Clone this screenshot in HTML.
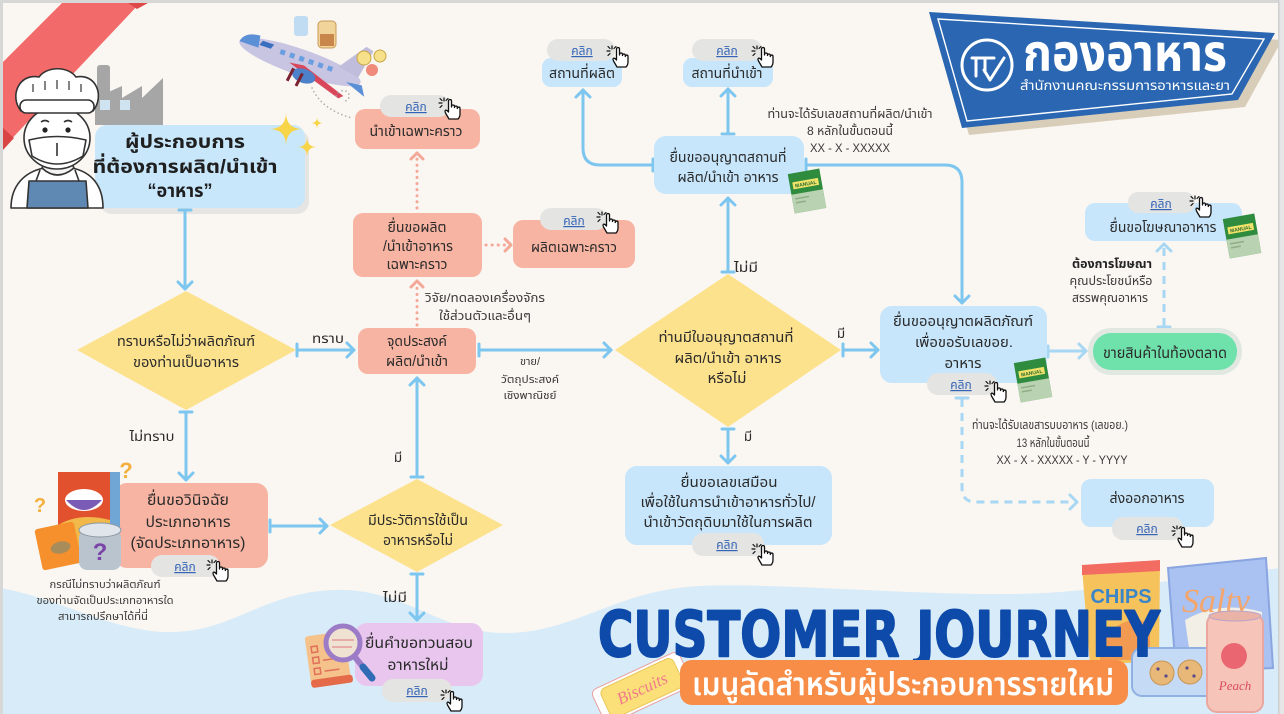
<!DOCTYPE html>
<html><head><meta charset="utf-8"><style>
html,body{margin:0;padding:0;width:1284px;height:714px;overflow:hidden;background:#faf6f2}
svg{display:block}
.t{font-family:"Liberation Sans","Noto Sans Thai","Loma","Garuda","Noto Sans CJK SC",sans-serif;fill:#2b2b2b;text-anchor:middle;font-size:14.5px}
.s{font-size:12px;fill:#3a3a3a}
.xs{font-size:11px;fill:#3a3a3a}
.b{font-weight:bold}
.lk{font-family:"Liberation Sans","Noto Sans Thai","Loma",sans-serif;font-size:12px;fill:#3464b6;text-anchor:middle;text-decoration:underline}
.c{stroke:#7cc6ef;stroke-width:3;fill:none;stroke-linecap:round;stroke-linejoin:round}
.cl{stroke:#a7d7f3;stroke-width:3;fill:none;stroke-linecap:round;stroke-linejoin:round}
.dsh{stroke-dasharray:8 6;stroke-linecap:butt}
.dot{stroke:#f4a897;stroke-width:3;fill:none;stroke-dasharray:0.1 6;stroke-linecap:round}
.dotc{stroke:#f4a897;stroke-width:3;fill:none;stroke-linecap:round;stroke-linejoin:round}
.pill{fill:#e4e4e2}
.bl{fill:#c7e6fb}
.sa{fill:#f8b4a2}
.ye{fill:#fde28d}
</style></head><body>
<svg width="1284" height="714" viewBox="0 0 1284 714" xmlns="http://www.w3.org/2000/svg">
<defs>
<symbol id="hand" viewBox="0 0 26 26">
 <g stroke="#111" stroke-width="1.2" fill="none" stroke-linecap="round">
  <path d="M7 4 L7 7 M2 9 L5 9 M3 4.5 L5 6.5 M11 4.5 L9 6.5 M3 13.5 L5 11.5"/>
 </g>
 <path d="M12 25 L8.5 19 C7.5 17 8 15.5 10 16.5 L11.5 18 L11.5 7 C11.5 5 14.5 5 14.5 7 L14.5 13 L14.5 12.5 C14.5 10.5 17.5 10.5 17.5 12.5 L17.5 13.5 C17.5 11.5 20.3 11.5 20.3 13.5 L20.3 14.5 C20.3 12.6 23 12.6 23 14.5 L23 20 C23 22 22 24 21 25 Z" fill="#fff" stroke="#111" stroke-width="1.3" stroke-linejoin="round"/>
</symbol>
<symbol id="book" viewBox="0 0 42 46">
 <g transform="rotate(-10 21 23)">
  <rect x="5" y="3" width="32" height="40" fill="#2f8b3e"/>
  <rect x="5" y="24" width="32" height="19" fill="#b9d2b1"/>
  <rect x="8" y="12" width="26" height="7" fill="#efe36a"/>
  <text x="21" y="17.5" font-family="Liberation Sans,sans-serif" font-size="5" font-weight="bold" fill="#2f6b2f" text-anchor="middle">MANUAL</text>
  <rect x="8" y="28" width="14" height="1.5" fill="#8fae88"/>
  <rect x="8" y="32" width="10" height="1.5" fill="#8fae88"/>
 </g>
</symbol>
</defs>

<!-- background -->
<rect width="1284" height="714" fill="#faf6f2"/>
<path d="M0 588 C60 598 115 634 175 632 C235 630 265 592 335 590 C405 588 440 633 505 633 C575 633 615 590 700 586 C790 582 960 600 1060 592 C1150 585 1230 572 1284 568 L1284 714 L0 714 Z" fill="#d8ebf8"/>

<!-- red ribbon -->
<polygon points="62,3 140,3 3,148 3,62" fill="#f26a6a"/>
<polygon points="128,3 148,3 137,9" fill="#df4848"/>
<polygon points="3,128 14,138 3,150" fill="#d94444"/>

<!-- factory -->
<rect x="97" y="65" width="13" height="45" rx="3" fill="#a6a6a6"/>
<polygon points="95,125 95,98 122,86 122,98 142,86 142,98 163,78 163,125" fill="#a6a6a6"/>
<rect x="100" y="100" width="10" height="10" fill="#cfe3f0"/>
<rect x="120" y="100" width="10" height="10" fill="#cfe3f0"/>

<!-- title card -->
<rect x="100" y="130" width="209" height="84" rx="12" fill="#e5e5e3"/>
<rect x="95" y="125" width="210" height="83" rx="12" fill="#c8e7fb"/>

<!-- sparkles -->
<g fill="#f8d548">
 <path d="M286 112 Q286 129 303 129 Q286 129 286 146 Q286 129 269 129 Q286 129 286 112 Z"/>
 <path d="M317 117 Q317 123 323 123 Q317 123 317 129 Q317 123 311 123 Q317 123 317 117 Z"/>
 <path d="M307 137 Q307 147 317 147 Q307 147 307 157 Q307 147 297 147 Q307 147 307 137 Z"/>
</g>

<!-- chef -->
<g stroke="#333" stroke-width="1.6" stroke-linejoin="round">
 <path d="M11 208 C11 186 24 172 44 168 L72 168 C92 172 103 186 103 208 Z" fill="#fff"/>
 <path d="M27 208 L29 181 L86 181 L88 208 Z" fill="#5f88b2"/>
 <path d="M36 181 L40 170 M79 181 L75 170" fill="none"/>
 <path d="M42 168 Q57 182 74 168 L70 160 L46 160 Z" fill="#f3f3f3"/>
 <ellipse cx="57" cy="138" rx="33" ry="31" fill="#fff"/>
 <path d="M29 140 Q57 133 86 140 L83 156 Q57 172 32 156 Z" fill="#fff"/>
 <path d="M57 143 L57 156" fill="none"/>
 <path d="M21 111 C9 96 19 73 39 77 C47 66 68 66 76 77 C96 73 105 96 93 111 Z" fill="#fff"/>
 <rect x="20" y="100" width="74" height="13" rx="6" fill="#fff"/>
 <path d="M33 84 L33 92 M45 81 L45 90 M57 80 L57 89 M69 81 L69 90 M81 84 L81 92" fill="none" stroke-width="1.2"/>
 <path d="M41 122 Q45 119 49 122 M64 122 Q68 119 72 122" fill="none"/>
</g>
<circle cx="45" cy="130" r="2.6" fill="#222"/>
<circle cx="68" cy="130" r="2.6" fill="#222"/>

<text class="t b" x="185" y="148" style="font-size:19px;fill:#1f1f1f" textLength="120" lengthAdjust="spacingAndGlyphs">ผู้ประกอบการ</text>
<text class="t b" x="185" y="173" style="font-size:19px;fill:#1f1f1f" textLength="185" lengthAdjust="spacingAndGlyphs">ที่ต้องการผลิต/นำเข้า</text>
<text class="t b" x="180" y="197" style="font-size:19px;fill:#1f1f1f" textLength="65" lengthAdjust="spacingAndGlyphs">“อาหาร”</text>

<!-- plane -->
<g>
 <rect x="294" y="16" width="14" height="20" rx="3" fill="#bfdcf3"/>
 <rect x="318" y="21" width="18" height="27" rx="4" fill="#f1d49a" stroke="#c99a55"/>
 <rect x="320" y="34" width="14" height="12" fill="#c9864a"/>
 <g transform="translate(300 62) rotate(19)">
  <ellipse cx="0" cy="0" rx="64" ry="13" fill="#c8c5e2"/>
  <path d="M-64 0 Q-62 -11 -46 -12 L-44 0 Z" fill="#5b8fd6"/>
  <path d="M-42 -8 L-30 -8 L-32 -3 L-44 -3 Z" fill="#3a6fc0"/>
  <g fill="#6a9ee0"><rect x="-22" y="-6" width="5" height="5"/><rect x="-12" y="-6" width="5" height="5"/><rect x="-2" y="-6" width="5" height="5"/><rect x="8" y="-6" width="5" height="5"/><rect x="18" y="-6" width="5" height="5"/><rect x="28" y="-6" width="5" height="5"/></g>
  <path d="M38 -8 L58 -36 L66 -34 L60 -4 Z" fill="#c0bddc"/>
  <path d="M-10 4 L48 22 L52 18 L5 2 Z" fill="#d9475a"/>
  <ellipse cx="8" cy="12" rx="12" ry="7" fill="#4d81c9"/>
  <path d="M-4 8 L-6 22 M6 10 L4 24" stroke="#7a2230" stroke-width="3"/>
  <path d="M50 4 L72 12 L66 2 Z" fill="#5b8fd6"/>
 </g>
 <circle cx="364" cy="58" r="7" fill="#f6e08a" stroke="#c9a645"/>
 <circle cx="380" cy="56" r="6" fill="#f6e08a" stroke="#c9a645"/>
 <circle cx="372" cy="70" r="6" fill="#f08a7a"/>
</g>
<path d="M312 88 Q322 110 352 118 M336 96 Q340 88 348 92 Q352 100 342 102" stroke="#aaa" stroke-width="1.6" fill="none" stroke-dasharray="0.1 4" stroke-linecap="round"/>

<!-- นำเข้าเฉพาะคราว -->
<rect x="355" y="109" width="125" height="40" rx="10" class="sa"/>
<rect x="380" y="95" width="70" height="22" rx="11" class="pill"/>
<text class="lk" x="416" y="111">คลิก</text>
<use href="#hand" x="437" y="94" width="26" height="26"/>
<text class="t" x="416" y="136" textLength="93" lengthAdjust="spacingAndGlyphs">นำเข้าเฉพาะคราว</text>

<!-- dotted salmon arrows -->
<line x1="417" y1="208" x2="417" y2="158" class="dot"/>
<polyline points="411,159 417,153 423,159" class="dotc"/>
<line x1="417" y1="325" x2="417" y2="286" class="dot"/>
<polyline points="411,287 417,281 423,287" class="dotc"/>
<line x1="486" y1="245" x2="506" y2="245" class="dot"/>
<polyline points="505,239 511,245 505,251" class="dotc"/>

<!-- ยื่นขอผลิต -->
<rect x="353" y="213" width="129" height="64" rx="10" class="sa"/>
<text class="t" x="417" y="232" textLength="59" lengthAdjust="spacingAndGlyphs">ยื่นขอผลิต</text>
<text class="t" x="418" y="251" textLength="70" lengthAdjust="spacingAndGlyphs">/นำเข้าอาหาร</text>
<text class="t" x="417" y="269" textLength="61" lengthAdjust="spacingAndGlyphs">เฉพาะคราว</text>

<!-- ผลิตเฉพาะคราว -->
<rect x="513" y="220" width="122" height="48" rx="10" class="sa"/>
<rect x="540" y="208" width="67" height="22" rx="11" class="pill"/>
<text class="lk" x="574" y="225">คลิก</text>
<use href="#hand" x="595" y="208" width="26" height="26"/>
<text class="t" x="574" y="252" textLength="86" lengthAdjust="spacingAndGlyphs">ผลิตเฉพาะคราว</text>

<text class="t s" x="485" y="302" textLength="120" lengthAdjust="spacingAndGlyphs">วิจัย/ทดลองเครื่องจักร</text>
<text class="t s" x="485" y="320" textLength="92" lengthAdjust="spacingAndGlyphs">ใช้ส่วนตัวและอื่นๆ</text>

<!-- connectors blue -->
<g class="c">
 <path d="M179 210 L191 210 M185 210 L185 289"/><polyline points="178,282 185,289 192,282"/>
 <path d="M297 344 L297 356 M297 350 L354 350"/><polyline points="347,343 354,350 347,357"/>
 <path d="M479 344 L479 356 M479 350 L611 350"/><polyline points="604,343 611,350 604,357"/>
 <path d="M180 412 L192 412 M186 412 L186 480"/><polyline points="179,473 186,480 193,473"/>
 <path d="M270 520 L270 532 M270 526 L327 526"/><polyline points="320,519 327,526 320,533"/>
 <path d="M411 477 L423 477 M417 477 L417 378"/><polyline points="410,385 417,378 424,385"/>
 <path d="M411 574 L423 574 M417 574 L417 620"/><polyline points="410,613 417,620 424,613"/>
 <path d="M722 272 L734 272 M728 272 L728 198"/><polyline points="721,205 728,198 735,205"/>
 <path d="M722 134 L734 134 M728 134 L728 89"/><polyline points="721,96 728,89 735,96"/>
 <path d="M653 159 L653 171 M653 165 L600 165 Q583 165 583 148 L583 90"/><polyline points="576,97 583,90 590,97"/>
 <path d="M806 159 L806 171 M806 165 L945 165 Q962 165 962 182 L962 303"/><polyline points="955,296 962,303 969,296"/>
 <path d="M843 344 L843 356 M843 350 L878 350"/><polyline points="871,343 878,350 871,357"/>
 <path d="M722 429 L734 429 M728 429 L728 463"/><polyline points="721,456 728,463 735,456"/>
</g>
<g class="cl">
 <path d="M1048 346 L1048 357 M1048 351 L1086 351"/><polyline points="1079,344 1086,351 1079,358"/>
 <path d="M1158 327 L1170 327"/>
 <path d="M1164 326 L1164 246" class="dsh"/><polyline points="1157,251 1164,244 1171,251"/>
 <path d="M956 398 L968 398"/>
 <path d="M962 399 L962 488 Q962 502 976 502 L1074 502" class="dsh"/><polyline points="1070,495 1077,502 1070,509"/>
</g>

<!-- diamonds -->
<polygon points="77,350 186,291 296,350 186,410" class="ye"/>
<text class="t" x="186" y="346" textLength="138" lengthAdjust="spacingAndGlyphs">ทราบหรือไม่ว่าผลิตภัณฑ์</text>
<text class="t" x="186" y="367" textLength="106" lengthAdjust="spacingAndGlyphs">ของท่านเป็นอาหาร</text>

<polygon points="615,350 728,274 841,350 728,427" class="ye"/>
<text class="t" x="726" y="342" textLength="135" lengthAdjust="spacingAndGlyphs">ท่านมีใบอนุญาตสถานที่</text>
<text class="t" x="728" y="363" textLength="107" lengthAdjust="spacingAndGlyphs">ผลิต/นำเข้า อาหาร</text>
<text class="t" x="727" y="383" textLength="39" lengthAdjust="spacingAndGlyphs">หรือไม่</text>

<polygon points="330,525 417,479 503,525 417,572" class="ye"/>
<text class="t" x="418" y="525" textLength="100" lengthAdjust="spacingAndGlyphs">มีประวัติการใช้เป็น</text>
<text class="t" x="418" y="545" textLength="70" lengthAdjust="spacingAndGlyphs">อาหารหรือไม่</text>

<!-- labels -->
<text class="t" x="328" y="343" style="font-size:13.5px" textLength="32" lengthAdjust="spacingAndGlyphs">ทราบ</text>
<text class="t xs" x="530" y="365">ขาย/</text>
<text class="t xs" x="530" y="383" textLength="58" lengthAdjust="spacingAndGlyphs">วัตถุประสงค์</text>
<text class="t xs" x="530" y="399" textLength="53" lengthAdjust="spacingAndGlyphs">เชิงพาณิชย์</text>
<text class="t" x="152" y="441" style="font-size:13.5px" textLength="45" lengthAdjust="spacingAndGlyphs">ไม่ทราบ</text>
<text class="t" x="398" y="462" style="font-size:13.5px">มี</text>
<text class="t" x="395" y="602" style="font-size:13.5px" textLength="24" lengthAdjust="spacingAndGlyphs">ไม่มี</text>
<text class="t" x="746" y="272" style="font-size:13.5px" textLength="24" lengthAdjust="spacingAndGlyphs">ไม่มี</text>
<text class="t" x="841" y="338" style="font-size:13.5px">มี</text>
<text class="t" x="748" y="441" style="font-size:13.5px">มี</text>

<!-- จุดประสงค์ -->
<rect x="358" y="328" width="118" height="46" rx="10" class="sa"/>
<text class="t" x="417" y="346" textLength="60" lengthAdjust="spacingAndGlyphs">จุดประสงค์</text>
<text class="t" x="417" y="366" textLength="62" lengthAdjust="spacingAndGlyphs">ผลิต/นำเข้า</text>

<!-- วินิจฉัย -->
<rect x="115" y="483" width="153" height="85" rx="12" class="sa"/>
<text class="t" x="188" y="505" style="font-size:15.5px" textLength="82" lengthAdjust="spacingAndGlyphs">ยื่นขอวินิจฉัย</text>
<text class="t" x="188" y="527" style="font-size:15.5px" textLength="85" lengthAdjust="spacingAndGlyphs">ประเภทอาหาร</text>
<text class="t" x="188" y="548" style="font-size:15.5px" textLength="115" lengthAdjust="spacingAndGlyphs">(จัดประเภทอาหาร)</text>
<rect x="151" y="555" width="69" height="22" rx="11" class="pill"/>
<text class="lk" x="185" y="571">คลิก</text>
<use href="#hand" x="205" y="556" width="26" height="26"/>
<!-- food items -->
<rect x="58" y="472" width="52" height="90" fill="#e2512e"/>
<rect x="110" y="472" width="10" height="90" fill="#6fa6d6"/>
<ellipse cx="84" cy="500" rx="19" ry="11" fill="#fff"/>
<path d="M66 500 Q84 520 102 500 Z" fill="#7a5bb5"/>
<path d="M58 525 Q80 512 110 520 L110 562 L58 562 Z" fill="#f0b94a"/>
<g transform="rotate(-12 58 545)"><rect x="38" y="525" width="40" height="42" rx="3" fill="#f5902c"/><ellipse cx="60" cy="548" rx="10" ry="6" fill="#a88c5a"/></g>
<rect x="79" y="530" width="42" height="40" rx="8" fill="#b9c4cf"/>
<ellipse cx="100" cy="530" rx="21" ry="7" fill="#dfe5ea" stroke="#8d98a4"/>
<text x="100" y="560" font-family="Liberation Sans,sans-serif" font-size="24" font-weight="bold" fill="#7b45a8" text-anchor="middle">?</text>
<text x="126" y="478" font-family="Liberation Sans,sans-serif" font-size="22" font-weight="bold" fill="#f3b03e" text-anchor="middle">?</text>
<text x="40" y="512" font-family="Liberation Sans,sans-serif" font-size="20" font-weight="bold" fill="#f3b03e" text-anchor="middle">?</text>
<text class="t xs" x="105" y="588" textLength="111" lengthAdjust="spacingAndGlyphs">กรณีไม่ทราบว่าผลิตภัณฑ์</text>
<text class="t xs" x="105" y="604" textLength="137" lengthAdjust="spacingAndGlyphs">ของท่านจัดเป็นประเภทอาหารใด</text>
<text class="t xs" x="103" y="620" textLength="90" lengthAdjust="spacingAndGlyphs">สามารถปรึกษาได้ที่นี่</text>

<!-- purple -->
<rect x="355" y="623" width="128" height="63" rx="12" fill="#e8c6ee"/>
<text class="t" x="419" y="648" style="font-size:15.5px" textLength="108" lengthAdjust="spacingAndGlyphs">ยื่นคำขอทวนสอบ</text>
<text class="t" x="418" y="670" style="font-size:15.5px" textLength="61" lengthAdjust="spacingAndGlyphs">อาหารใหม่</text>
<rect x="382" y="679" width="70" height="23" rx="11" class="pill"/>
<text class="lk" x="417" y="695">คลิก</text>
<use href="#hand" x="439" y="686" width="26" height="26"/>
<!-- magnifier -->
<g transform="rotate(-8 325 660)"><rect x="308" y="634" width="40" height="50" rx="3" fill="#f5c28c"/><rect x="308" y="678" width="42" height="8" rx="3" fill="#e46a4a"/>
<g stroke="#e0705a" stroke-width="1.5" fill="none"><rect x="313" y="645" width="6" height="6"/><rect x="313" y="656" width="6" height="6"/><rect x="313" y="667" width="6" height="6"/><path d="M323 660 L338 660 M323 671 L338 671"/></g></g>
<line x1="354" y1="656" x2="372" y2="678" stroke="#9c7cc6" stroke-width="6" stroke-linecap="round"/>
<line x1="363" y1="667" x2="372" y2="678" stroke="#2f6cb5" stroke-width="7" stroke-linecap="round"/>
<circle cx="343" cy="643" r="17" fill="#efe2d2" stroke="#9c7cc6" stroke-width="5"/>
<path d="M332 640 L354 640 M332 647 L352 647" stroke="#e59a9a" stroke-width="1.5"/>

<!-- สถานที่ -->
<rect x="542" y="58" width="80" height="29" rx="9" class="bl"/>
<rect x="547" y="39" width="68" height="22" rx="11" class="pill"/>
<text class="lk" x="582" y="55">คลิก</text>
<use href="#hand" x="605" y="42" width="26" height="26"/>
<text class="t" x="582" y="78" textLength="66" lengthAdjust="spacingAndGlyphs">สถานที่ผลิต</text>

<rect x="683" y="58" width="90" height="29" rx="9" class="bl"/>
<rect x="692" y="39" width="70" height="22" rx="11" class="pill"/>
<text class="lk" x="727" y="55">คลิก</text>
<use href="#hand" x="750" y="42" width="26" height="26"/>
<text class="t" x="727" y="78" textLength="71" lengthAdjust="spacingAndGlyphs">สถานที่นำเข้า</text>

<!-- license -->
<rect x="654" y="136" width="150" height="58" rx="12" class="bl"/>
<text class="t" x="728" y="162" textLength="117" lengthAdjust="spacingAndGlyphs">ยื่นขออนุญาตสถานที่</text>
<text class="t" x="728" y="182" textLength="101" lengthAdjust="spacingAndGlyphs">ผลิต/นำเข้า อาหาร</text>
<use href="#book" x="786" y="168" width="42" height="46"/>
<text class="t s" x="850" y="118" textLength="165" lengthAdjust="spacingAndGlyphs">ท่านจะได้รับเลขสถานที่ผลิต/นำเข้า</text>
<text class="t s" x="850" y="135" textLength="86" lengthAdjust="spacingAndGlyphs">8 หลักในขั้นตอนนี้</text>
<text class="t s" x="850" y="152" textLength="80" lengthAdjust="spacingAndGlyphs">XX - X - XXXXX</text>

<!-- product -->
<rect x="880" y="306" width="167" height="77" rx="12" class="bl"/>
<text class="t" x="963" y="326" textLength="140" lengthAdjust="spacingAndGlyphs">ยื่นขออนุญาตผลิตภัณฑ์</text>
<text class="t" x="964" y="347" textLength="98" lengthAdjust="spacingAndGlyphs">เพื่อขอรับเลขอย.</text>
<text class="t" x="963" y="368" textLength="37" lengthAdjust="spacingAndGlyphs">อาหาร</text>
<rect x="927" y="373" width="70" height="22" rx="11" class="pill"/>
<text class="lk" x="961" y="389">คลิก</text>
<use href="#hand" x="983" y="377" width="26" height="26"/>
<use href="#book" x="1012" y="357" width="42" height="46"/>

<!-- green -->
<rect x="1088" y="328" width="154" height="47" rx="23" fill="#e1e8e2"/>
<rect x="1093" y="333" width="144" height="37" rx="18" fill="#6fe2ac"/>
<text class="t" x="1165" y="358" style="font-size:15.5px" textLength="124" lengthAdjust="spacingAndGlyphs">ขายสินค้าในท้องตลาด</text>

<!-- ad -->
<rect x="1085" y="203" width="157" height="38" rx="10" class="bl"/>
<rect x="1128" y="192" width="67" height="21" rx="10" class="pill"/>
<text class="lk" x="1161" y="208">คลิก</text>
<use href="#hand" x="1188" y="192" width="26" height="26"/>
<text class="t" x="1163" y="232" textLength="107" lengthAdjust="spacingAndGlyphs">ยื่นขอโฆษณาอาหาร</text>
<use href="#book" x="1221" y="213" width="42" height="46"/>
<text class="t s b" x="1112" y="268" textLength="80" lengthAdjust="spacingAndGlyphs" style="fill:#222">ต้องการโฆษณา</text>
<text class="t s" x="1111" y="285" textLength="83" lengthAdjust="spacingAndGlyphs">คุณประโยชน์หรือ</text>
<text class="t s" x="1110" y="302" textLength="76" lengthAdjust="spacingAndGlyphs">สรรพคุณอาหาร</text>

<!-- note 13 -->
<text class="t s" x="1050" y="429" textLength="156" lengthAdjust="spacingAndGlyphs">ท่านจะได้รับเลขสารบบอาหาร (เลขอย.)</text>
<text class="t s" x="1053" y="447" textLength="73" lengthAdjust="spacingAndGlyphs">13 หลักในขั้นตอนนี้</text>
<text class="t s" x="1062" y="464" textLength="131" lengthAdjust="spacingAndGlyphs">XX - X - XXXXX - Y - YYYY</text>

<!-- export -->
<rect x="1081" y="479" width="133" height="48" rx="10" class="bl"/>
<text class="t" x="1147" y="503" textLength="75" lengthAdjust="spacingAndGlyphs">ส่งออกอาหาร</text>
<rect x="1112" y="517" width="71" height="23" rx="11" class="pill"/>
<text class="lk" x="1147" y="533">คลิก</text>
<use href="#hand" x="1170" y="522" width="26" height="26"/>

<!-- virtual -->
<rect x="625" y="466" width="207" height="79" rx="12" class="bl"/>
<text class="t" x="729" y="487" textLength="97" lengthAdjust="spacingAndGlyphs">ยื่นขอเลขเสมือน</text>
<text class="t" x="728" y="507" textLength="175" lengthAdjust="spacingAndGlyphs">เพื่อใช้ในการนำเข้าอาหารทั่วไป/</text>
<text class="t" x="728" y="527" textLength="169" lengthAdjust="spacingAndGlyphs">นำเข้าวัตถุดิบมาใช้ในการผลิต</text>
<rect x="692" y="533" width="72" height="23" rx="11" class="pill"/>
<text class="lk" x="727" y="549">คลิก</text>
<use href="#hand" x="750" y="540" width="26" height="26"/>

<!-- logo banner -->
<polygon points="935,18 1282,40 1245,107 969,135" fill="#d8cdb9"/>
<polygon points="929,12 1275,33 1238,100 962,128" fill="#2a66b1"/>
<polygon points="938,19 1264,39 1232,94 967,121" fill="none" stroke="#fff" stroke-width="1.4"/>
<circle cx="987" cy="65" r="25" fill="none" stroke="#fff" stroke-width="3"/>
<path d="M972 58 L994 58 M976 58 L976 76 M985 58 L985 72 M984 70 L990 80 L1004 58" fill="none" stroke="#fff" stroke-width="3" stroke-linecap="round" stroke-linejoin="round"/>
<text x="1125" y="71" font-size="52" font-weight="bold" text-anchor="middle" textLength="204" lengthAdjust="spacingAndGlyphs" fill="#fff" style="font-family:'Liberation Sans','Noto Sans Thai','Loma','Garuda',sans-serif">กองอาหาร</text>
<text class="t" x="1125" y="90" style="font-size:13px;fill:#fff" textLength="210" lengthAdjust="spacingAndGlyphs">สำนักงานคณะกรรมการอาหารและยา</text>

<!-- snacks -->
<polygon points="1168,568 1266,558 1273,668 1176,672" fill="#a9c2f2" stroke="#8aa5e0" stroke-width="2"/>
<path d="M1185 620 Q1220 600 1262 612 L1262 650 L1190 655 Z" fill="#f2efe6"/>
<text x="1216" y="612" font-family="Liberation Serif,serif" font-style="italic" font-size="34" fill="#f6a56a" text-anchor="middle">Salty</text>
<polygon points="1082,568 1160,563 1159,662 1090,664" fill="#f6c25c"/>
<polygon points="1082,565 1160,560 1160,571 1082,575" fill="#f36c62"/>
<path d="M1100 640 Q1130 610 1150 625 L1150 660 L1100 660 Z" fill="#f29a52"/>
<text x="1121" y="603" font-family="Liberation Sans,sans-serif" font-weight="bold" font-size="20" fill="#3a86c8" text-anchor="middle">CHIPS</text>
<rect x="1132" y="648" width="85" height="48" rx="10" fill="#c5dbf5" stroke="#8fb0e0" stroke-width="2"/>
<circle cx="1162" cy="673" r="12" fill="#e8b878" stroke="#c79556"/>
<circle cx="1190" cy="672" r="12" fill="#e8b878" stroke="#c79556"/>
<g fill="#5a4a8a"><circle cx="1158" cy="669" r="1.6"/><circle cx="1166" cy="676" r="1.6"/><circle cx="1187" cy="668" r="1.6"/><circle cx="1194" cy="676" r="1.6"/></g>
<rect x="1207" y="614" width="56" height="98" rx="10" fill="#f6c4b8" stroke="#e9a7a0" stroke-width="2"/>
<ellipse cx="1235" cy="616" rx="26" ry="5" fill="#e9b3a8" stroke="#b9a3c8"/>
<circle cx="1234" cy="656" r="13" fill="#ea6670"/>
<text x="1235" y="690" font-family="Liberation Serif,serif" font-style="italic" font-size="13" fill="#d84b5c" text-anchor="middle">Peach</text>
<g transform="translate(642 688) rotate(-25)">
 <rect x="-48" y="-19" width="96" height="38" rx="6" fill="#fff" stroke="#e9a0a0" stroke-width="1"/>
 <rect x="-40" y="-16" width="80" height="32" rx="6" fill="#fbe07a" stroke="#e9c75a"/>
 <text x="0" y="6" font-family="Liberation Serif,serif" font-style="italic" font-size="17" fill="#f07a8c" text-anchor="middle">Biscuits</text>
</g>

<!-- title banner -->
<text x="598" y="656" font-family="'DejaVu Sans','Liberation Sans',sans-serif" font-weight="900" font-size="62" fill="#0d4aa9" stroke="#0d4aa9" stroke-width="2" stroke-linejoin="round" textLength="562" lengthAdjust="spacingAndGlyphs">CUSTOMER JOURNEY</text>
<rect x="680" y="660" width="448" height="45" rx="12" fill="#f78d47"/>
<text class="t" x="903" y="695" style="font-size:32px;fill:#fff;font-weight:600" textLength="422" lengthAdjust="spacingAndGlyphs">เมนูลัดสำหรับผู้ประกอบการรายใหม่</text>

<!-- frame -->
<rect x="0" y="0" width="1284" height="3" fill="#d7d7d7"/>
<rect x="0" y="0" width="3" height="714" fill="#d7d7d7"/>
<rect x="1278" y="0" width="6" height="714" fill="#e6e6e6"/>
<rect x="1278" y="0" width="1.5" height="714" fill="#cfcfcf"/>
</svg>
</body></html>
